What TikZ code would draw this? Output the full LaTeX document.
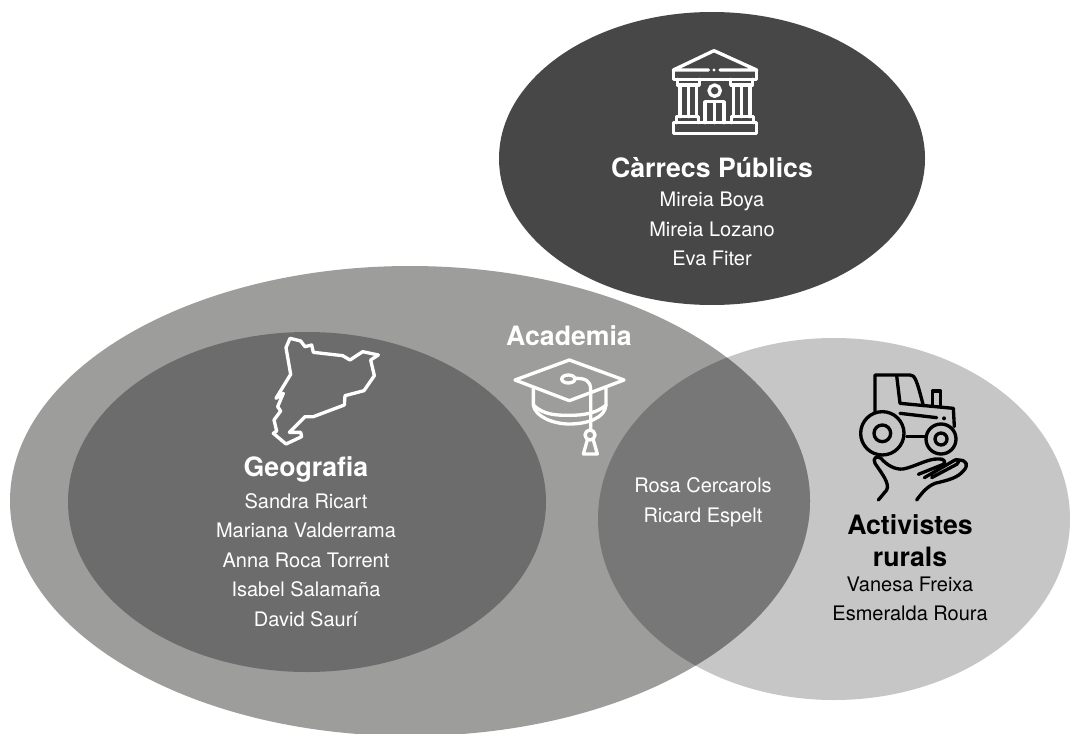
\documentclass[tikz,border=0pt]{standalone}
\usepackage{fontspec}
\setmainfont{TeX Gyre Heros}
\definecolor{cdark}{HTML}{474747}
\definecolor{cacad}{HTML}{9D9D9C}
\definecolor{cgeo}{HTML}{6C6C6C}
\definecolor{crur}{HTML}{C6C6C6}
\definecolor{cover}{HTML}{777777}
\tikzset{
 names/.style={text=white,align=center,font=\fontsize{15pt}{22.1pt}\selectfont},
 namesk/.style={text=black,align=center,font=\fontsize{15pt}{22.1pt}\selectfont},
 head/.style={text=white,align=center,font=\fontsize{20pt}{22pt}\selectfont\bfseries},
 headk/.style={text=black,align=center,font=\fontsize{20pt}{24pt}\selectfont\bfseries},
 icon/.style={line width=2.5pt,line join=round,line cap=round},
}
\begin{document}
\begin{tikzpicture}[x=0.75pt,y=-0.75pt]
\useasboundingbox (0,0) rectangle (1070,734);
\fill[white] (0,0) rectangle (1070,734);
% ellipses
\fill[cdark] (712,158.5) ellipse [x radius=213,y radius=146.5];
\fill[crur] (834,519) ellipse [x radius=236,y radius=181];
\begin{scope}
 \clip (0,0) rectangle (1070,734);
 \fill[cacad] (410,501) ellipse [x radius=400,y radius=235];
 \clip (410,501) ellipse [x radius=400,y radius=235];
 \fill[cover] (834,519) ellipse [x radius=236,y radius=181];
\end{scope}
\fill[cgeo] (307,502) ellipse [x radius=239,y radius=170];
% bank icon
\begin{scope}[shift={(640,40)},x=0.25pt,y=-0.25pt,icon,draw=white]
 \draw (222,32) -- (100,90) -- (205,90) (240,90) -- (350,90) -- (222,32);
 \fill[white] (222,90) circle (5);
 \draw (100,90) -- (100,118) -- (350,118) -- (350,90);
 \draw (112,118) -- (112,135) -- (178,135) -- (178,118);
 \draw (272,118) -- (272,135) -- (338,135) -- (338,118);
 \draw (120,135) -- (120,230) (145,135) -- (145,230) (170,135) -- (170,230);
 \draw (280,135) -- (280,230) (305,135) -- (305,230) (330,135) -- (330,230);
 \draw (110,248) -- (110,230) -- (175,230) -- (175,248);
 \draw (275,248) -- (275,230) -- (340,230) -- (340,248);
 \draw (224,152) circle (17);
 \draw (195,248) -- (195,185) -- (252,185) -- (252,248);
 \draw (224,185) -- (224,248);
 \draw (100,248) rectangle (350,280);
\end{scope}
% Catalonia outline
\begin{scope}[shift={(250,325)},x=0.25pt,y=-0.25pt,icon,draw=white]
 \draw (120,40) -- (152,48) -- (165,65) -- (185,60) -- (190,82) -- (278,92) -- (300,105) -- (338,80) -- (385,90) -- (362,105) -- (373,152) -- (342,197) -- (285,212) -- (283,240) -- (190,275) -- (165,275) -- (118,322) -- (152,322) -- (155,335) -- (108,357) -- (70,325) -- (80,318) -- (72,285) -- (92,258) -- (83,245) -- (100,205) -- (78,220) -- (122,148) -- (108,68) -- cycle;
\end{scope}
% graduation cap
\begin{scope}[shift={(500,350)},x=0.25pt,y=-0.25pt,icon,draw=white]
 \draw (208,30) -- (372,90) -- (208,152) -- (45,90) -- cycle;
 \draw (100,115) -- (100,165) .. controls (130,195) and (170,196) .. (208,196) .. controls (250,196) and (290,190) .. (318,165) -- (318,115);
 \draw (100,165) .. controls (105,200) and (160,222) .. (208,222) .. controls (260,222) and (315,205) .. (318,165);
 \draw (205,87) ellipse [x radius=20,y radius=12];
 \draw (225,85) .. controls (255,85) and (272,90) .. (272,120) -- (272,238);
 \draw (270,255) circle (15);
 \draw (262,270) -- (250,312) -- (292,312) -- (280,270);
\end{scope}
% tractor and hand
\begin{scope}[shift={(845,365)},x=0.25pt,y=-0.25pt,icon,draw=black]
 \draw (90,140) -- (90,30) -- (195,30) .. controls (210,30) and (215,45) .. (235,122);
 \draw (155,32) -- (165,115) -- (325,130) -- (328,185);
 \draw (262,122) -- (262,78) -- (287,78) -- (287,124);
 \draw (112,205) circle (65);
 \draw (112,205) circle (25);
 \draw (288,222) circle (45);
 \draw (288,222) circle (18);
 \draw (165,145) -- (275,158);
 \fill[black] (297,160) circle (6);
 \draw (185,215) -- (243,215);
 \draw (100,405) -- (125,375) .. controls (135,355) and (110,325) .. (90,295) .. controls (82,280) and (95,270) .. (108,280) .. controls (125,300) and (150,315) .. (175,312) .. controls (210,305) and (250,280) .. (280,282) .. controls (295,280) and (305,290) .. (295,298) -- (220,328);
 \draw (238,338) -- (330,285) .. controls (340,280) and (345,290) .. (335,298) -- (260,338);
 \draw (340,285) .. controls (365,285) and (372,300) .. (355,318) .. controls (335,340) and (310,345) .. (270,355) .. controls (245,365) and (230,385) .. (215,405);
\end{scope}
% texts
\node[head] (h1) at (712,168) {Càrrecs Públics};
\node[names] (n1) at (712,229) {Mireia Boya\\Mireia Lozano\\Eva Fiter};
\node[head] (h2) at (569,336) {Academia};
\node[head] (h3) at (306,469) {Geografia};
\node[names] (n3) at (306,560) {Sandra Ricart\\Mariana Valderrama\\Anna Roca Torrent\\Isabel Salamaña\\David Saurí};
\node[names] (n4) at (703,502) {Rosa Cercarols\\Ricard Espelt};
\node[headk] (h5) at (910,541) {Activistes\\rurals};
\node[namesk] (n5) at (910,599) {Vanesa Freixa\\Esmeralda Roura};
\end{tikzpicture}
\end{document}
